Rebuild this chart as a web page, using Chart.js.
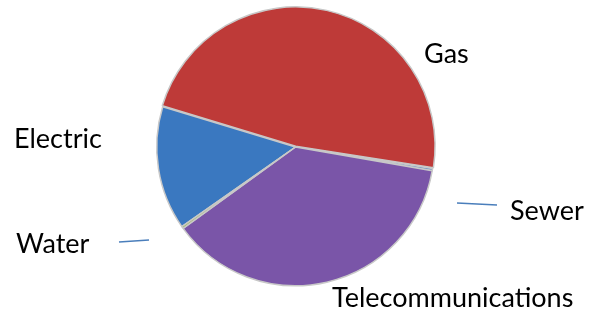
<!DOCTYPE html>
<html>
<head>
<meta charset="utf-8">
<script src="https://cdn.jsdelivr.net/npm/chart.js@4"></script>
<style>
  html, body { margin: 0; padding: 0; background: #fff; }
  #wrap { width: 600px; height: 318px; }
</style>
</head>
<body>
<div id="wrap"><canvas id="pie" width="600" height="318"></canvas></div>
<script>
// ─── Data ───
const labels = ['Electric', 'Gas', 'Sewer', 'Telecommunications', 'Water'];
const shares = [14.4, 47.8, 0.25, 37.3, 0.25];
const colors = ['#3a78c0', '#be3a38', '#5b86c2', '#7a55a8', '#9bbb59'];
const rimColors = ['#2b5f9e', '#9c2d2b', '#4a70a8', '#5f4088', '#7e9a44'];

// label anchors (left x, baseline y) and leader lines, per label
const labelPos = {
    'Electric': [14, 148],
    'Gas': [424, 63],
    'Sewer': [510, 220],
    'Telecommunications': [332, 307],
    'Water': [16, 253]
};
const leaders = {
    'Sewer': [[457, 203], [497, 205]],
    'Water': [[119, 242], [149, 240]]
};

const outsideLabels = {
    id: 'outsideLabels',
    afterDraw(chart) {
        const ctx = chart.ctx;
        ctx.save();
        ctx.strokeStyle = '#4a7ebb';
        ctx.lineWidth = 1.5;
        Object.values(leaders).forEach(([a, b]) => {
            ctx.beginPath();
            ctx.moveTo(a[0], a[1]);
            ctx.lineTo(b[0], b[1]);
            ctx.stroke();
        });
        ctx.fillStyle = '#000';
        ctx.font = '27px Lato';
        ctx.textBaseline = 'alphabetic';
        labels.forEach(l => {
            const p = labelPos[l];
            ctx.fillText(l, p[0], p[1]);
        });
        ctx.restore();
    }
};

// slight bevel: lighter body, darker rim
function shade(c) {
    const chart = c.chart;
    const arc = chart.getDatasetMeta(0).data[c.dataIndex];
    if (!arc || !arc.outerRadius) return colors[c.dataIndex];
    const g = chart.ctx.createRadialGradient(arc.x, arc.y, 0, arc.x, arc.y, arc.outerRadius);
    g.addColorStop(0, colors[c.dataIndex]);
    g.addColorStop(0.9, colors[c.dataIndex]);
    g.addColorStop(1, rimColors[c.dataIndex]);
    return g;
}

new Chart(document.getElementById('pie'), {
    type: 'pie',
    data: {
        labels,
        datasets: [{
            data: shares,
            backgroundColor: shade,
            borderColor: '#c8c8c8',
            borderWidth: 1.5,
            offset: [0, 3, 0, 0, 0]
        }]
    },
    options: {
        responsive: false,
        animation: false,
        rotation: 235,
        layout: { padding: { left: 0, right: 9, top: 6, bottom: 30 } },
        plugins: {
            legend: { display: false },
            tooltip: { enabled: false }
        }
    },
    plugins: [outsideLabels]
});
</script>
</body>
</html>
